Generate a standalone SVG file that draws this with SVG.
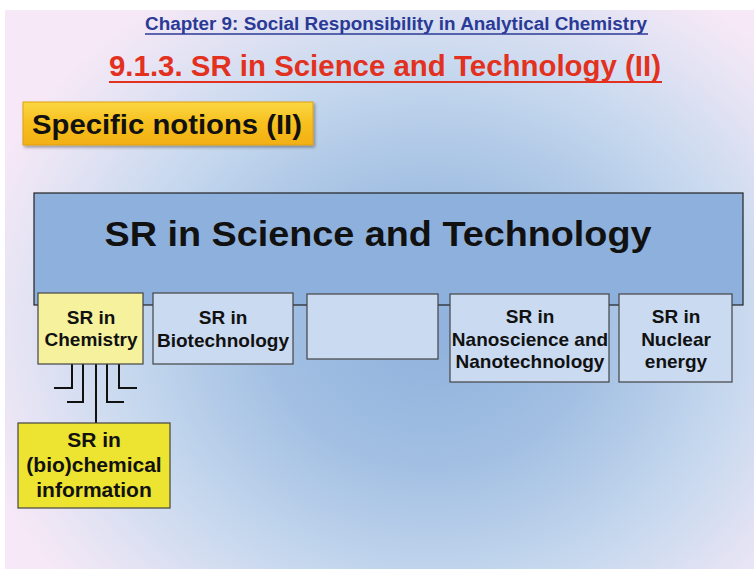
<svg xmlns="http://www.w3.org/2000/svg" width="754" height="571" viewBox="0 0 754 571">
<defs>
<radialGradient id="bg" cx="430" cy="330" r="470" gradientUnits="userSpaceOnUse" gradientTransform="translate(430 330) scale(1 0.85) translate(-430 -330)">
<stop offset="0" stop-color="#8fb1dc"/>
<stop offset="0.35" stop-color="#a3c0e3"/>
<stop offset="0.65" stop-color="#c6d8ee"/>
<stop offset="0.88" stop-color="#e6e4f4"/>
<stop offset="1" stop-color="#f6e8f6"/>
</radialGradient>
<linearGradient id="gold" x1="0" y1="0" x2="0" y2="1">
<stop offset="0" stop-color="#fbd742"/>
<stop offset="0.5" stop-color="#f7bf1f"/>
<stop offset="1" stop-color="#f2b012"/>
</linearGradient>
<filter id="sh" x="-10%" y="-20%" width="130%" height="150%">
<feDropShadow dx="1.5" dy="2" stdDeviation="1.5" flood-color="#000" flood-opacity="0.35"/>
</filter>
</defs>
<style>
.t{font-family:"Liberation Sans",Arial,sans-serif;font-weight:bold;text-anchor:middle;fill:#111}
.n{font-size:19px}
.box{stroke:#444;stroke-width:1.2}
.blue{fill:#c9daf1}
.conn{stroke:#111;stroke-width:2;fill:none}
</style>
<rect x="0" y="0" width="754" height="571" fill="#ffffff"/>
<rect x="5" y="10" width="749" height="559" fill="url(#bg)"/>

<g id="header">
<text x="396" y="30" class="t" style="font-size:18px;fill:#2b3a96" textLength="502" lengthAdjust="spacingAndGlyphs">Chapter 9: Social Responsibility in Analytical Chemistry</text>
<line x1="145" y1="34" x2="648" y2="34" stroke="#2b3a96" stroke-width="1.5"/>
<text x="385" y="76" class="t" style="font-size:30px;fill:#e2321f" textLength="552" lengthAdjust="spacingAndGlyphs">9.1.3. SR in Science and Technology (II)</text>
<line x1="109" y1="82" x2="662" y2="82" stroke="#e2321f" stroke-width="2"/>
</g>

<g id="specific">
<rect x="23" y="102" width="290" height="43" fill="url(#gold)" stroke="#e0a010" stroke-width="1" filter="url(#sh)"/>
<text x="167" y="134" class="t" style="font-size:27px" textLength="270" lengthAdjust="spacingAndGlyphs">Specific notions (II)</text>
</g>

<g id="root">
<rect x="34" y="193" width="709" height="112" fill="#8eb0dc" stroke="#222" stroke-width="1.2"/>
<text x="378" y="246" class="t" style="font-size:35px" textLength="547" lengthAdjust="spacingAndGlyphs">SR in Science and Technology</text>
</g>

<g id="connectors">
<line class="conn" x1="96" y1="364" x2="96" y2="423"/>
<polyline class="conn" points="72,364 72,388 54,388"/>
<polyline class="conn" points="83,364 83,402 67,402"/>
<polyline class="conn" points="107,364 107,402 124,402"/>
<polyline class="conn" points="119,364 119,388 137,388"/>
</g>

<g id="chemistry">
<rect x="38" y="293" width="105" height="71" fill="#f6f19c" class="box"/>
<text x="91" y="324" class="t n">SR in</text>
<text x="91" y="346" class="t n">Chemistry</text>
</g>

<g id="biotechnology">
<rect x="153" y="293" width="140" height="71" class="box blue"/>
<text x="223" y="324" class="t n">SR in</text>
<text x="223" y="347" class="t n">Biotechnology</text>
</g>

<g id="empty">
<rect x="307" y="294" width="131" height="65" class="box blue"/>
</g>

<g id="nano">
<rect x="450" y="294" width="159" height="88" class="box blue"/>
<text x="530" y="323" class="t n">SR in</text>
<text x="530" y="346" class="t n">Nanoscience and</text>
<text x="530" y="368" class="t n">Nanotechnology</text>
</g>

<g id="nuclear">
<rect x="619" y="294" width="113" height="88" class="box blue"/>
<text x="676" y="323" class="t n">SR in</text>
<text x="676" y="346" class="t n">Nuclear</text>
<text x="676" y="368" class="t n">energy</text>
</g>

<g id="bioinfo">
<rect x="18" y="423" width="152" height="85" fill="#ede331" class="box"/>
<text x="94" y="447" class="t" style="font-size:21px">SR in</text>
<text x="94" y="472" class="t" style="font-size:21px">(bio)chemical</text>
<text x="94" y="497" class="t" style="font-size:21px">information</text>
</g>
</svg>
